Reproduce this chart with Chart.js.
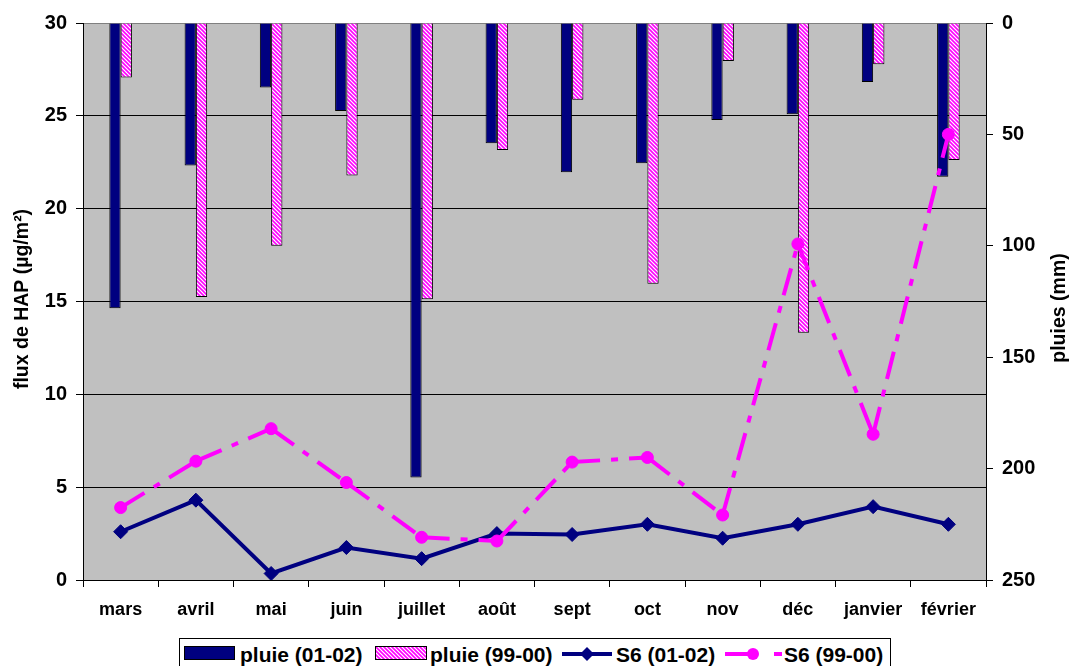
<!DOCTYPE html>
<html>
<head>
<meta charset="utf-8">
<script src="https://cdn.jsdelivr.net/npm/chart.js@4/dist/chart.umd.min.js"></script>
<style>
  html, body { margin: 0; padding: 0; background: #fff; overflow: hidden; }
  #wrap { position: relative; width: 1071px; height: 666px; }
  #chart { position: absolute; left: 0; top: 0; }
  .lg { position: absolute; font: bold 21px "Liberation Sans", Arial, sans-serif; line-height: 20px; color: #000; white-space: nowrap; }
  #legendBox { position: absolute; left: 179px; top: 638px; width: 712px; height: 40px; border: 1px solid #000; box-sizing: border-box; background: #fff; }
  .swatch { position: absolute; top: 646px; height: 14px; box-sizing: border-box; border: 1px solid #000; }
</style>
</head>
<body>
<div id="wrap">
  <canvas id="chart" width="1071" height="666"></canvas>
  <div id="legendBox"></div>
  <div class="swatch" style="left:184px;width:51px;background:#000080;"></div>
  <div class="lg" style="left:240px;top:645px;">pluie (01-02)</div>
  <div class="swatch" id="hatchSwatch" style="left:375px;width:52px;"></div>
  <div class="lg" style="left:430px;top:645px;">pluie (99-00)</div>
  <svg style="position:absolute;left:560px;top:644px" width="54" height="20">
    <line x1="2" y1="10" x2="52" y2="10" stroke="#000080" stroke-width="4"/>
    <polygon points="27,3 34,10 27,17 20,10" fill="#000080"/>
  </svg>
  <div class="lg" style="left:616px;top:645px;">S6 (01-02)</div>
  <svg style="position:absolute;left:722px;top:644px" width="62" height="20">
    <line x1="3" y1="10" x2="31" y2="10" stroke="#ff00ff" stroke-width="4"/>
    <circle cx="31" cy="10" r="6" fill="#ff00ff"/>
    <line x1="52" y1="10" x2="60" y2="10" stroke="#ff00ff" stroke-width="4"/>
  </svg>
  <div class="lg" style="left:784px;top:645px;">S6 (99-00)</div>
</div>
<script>
// Months of the sampling year (March to February)
const months = ['mars', 'avril', 'mai', 'juin', 'juillet', 'août', 'sept', 'oct', 'nov', 'déc', 'janvier', 'février'];

// Monthly rainfall (mm), right axis, hanging from the top
const pluie0102 = [128, 64, 29, 39.5, 204, 54, 67, 63, 43.5, 41, 26.5, 69];
const pluie9900 = [24.5, 123, 100, 68.5, 124, 57, 34.5, 117, 17, 139, 18.5, 61.5];

// PAH deposition flux at site S6 (µg/m²), left axis
const s6_0102 = [2.6, 4.3, 0.35, 1.75, 1.15, 2.5, 2.45, 3.0, 2.25, 3.0, 3.95, 3.0];
const s6_9900 = [3.9, 6.4, 8.15, 5.25, 2.3, 2.1, 6.35, 6.6, 3.5, 18.1, 7.85, 24.0];

// Axis ranges
const fluxTicks = [0, 5, 10, 15, 20, 25, 30];
const pluieTicks = [0, 50, 100, 150, 200, 250];

const FONT = '"Liberation Sans", Arial, sans-serif';

// Pink/white diagonal hatch used for the 1999-2000 rainfall bars
function makeHatch() {
  const c = document.createElement('canvas');
  c.width = 4; c.height = 4;
  const g = c.getContext('2d');
  g.fillStyle = '#ffffff';
  g.fillRect(0, 0, 4, 4);
  g.strokeStyle = '#ff00ff';
  g.lineWidth = 1.6;
  g.beginPath();
  g.moveTo(-1, -1); g.lineTo(5, 5);
  g.moveTo(3, -1); g.lineTo(5, 1);
  g.moveTo(-1, 3); g.lineTo(1, 5);
  g.stroke();
  return { canvas: c, pattern: g.createPattern(c, 'repeat') };
}
const hatch = makeHatch();
document.getElementById('hatchSwatch').style.background =
  'url(' + hatch.canvas.toDataURL() + ')';

// Grey plot background
const plotBackground = {
  id: 'plotBackground',
  beforeDraw(chart) {
    const { ctx, chartArea: a } = chart;
    ctx.save();
    ctx.fillStyle = '#c0c0c0';
    ctx.fillRect(a.left, a.top, a.right - a.left, a.bottom - a.top);
    ctx.restore();
  }
};

// Both axis titles read bottom-to-top
const axisTitles = {
  id: 'axisTitles',
  afterDraw(chart) {
    const { ctx } = chart;
    ctx.save();
    ctx.font = 'bold 19.5px ' + FONT;
    ctx.fillStyle = '#000';
    ctx.textAlign = 'center';
    ctx.textBaseline = 'alphabetic';
    ctx.save();
    ctx.translate(28, 299);
    ctx.rotate(-Math.PI / 2);
    ctx.fillText('flux de HAP (µg/m²)', 0, 0);
    ctx.restore();
    ctx.save();
    ctx.translate(1065, 308);
    ctx.rotate(-Math.PI / 2);
    ctx.fillText('pluies (mm)', 0, 0);
    ctx.restore();
    ctx.restore();
  }
};

new Chart(document.getElementById('chart'), {
  type: 'bar',
  data: {
    labels: months,
    datasets: [
      {
        type: 'bar', label: 'pluie (01-02)', data: pluie0102, yAxisID: 'y2',
        backgroundColor: '#000080', borderColor: '#000', borderWidth: 1,
        categoryPercentage: 0.3, barPercentage: 1.0, order: 2
      },
      {
        type: 'bar', label: 'pluie (99-00)', data: pluie9900, yAxisID: 'y2',
        backgroundColor: hatch.pattern, borderColor: '#000', borderWidth: 1,
        categoryPercentage: 0.3, barPercentage: 1.0, order: 2
      },
      {
        type: 'line', label: 'S6 (01-02)', data: s6_0102, yAxisID: 'y',
        borderColor: '#000080', backgroundColor: '#000080', borderWidth: 4,
        pointStyle: 'rectRot', pointRadius: 7, pointBorderWidth: 1,
        tension: 0, fill: false, order: 1
      },
      {
        type: 'line', label: 'S6 (99-00)', data: s6_9900, yAxisID: 'y',
        borderColor: '#ff00ff', backgroundColor: '#ff00ff', borderWidth: 4,
        borderDash: [28, 11, 7, 11],
        // a distinct (negligible) offset per segment makes each segment stroke
        // on its own, so the dash pattern restarts at every point
        segment: { borderDashOffset: c => c.p0DataIndex * 1e-4 },
        pointStyle: 'circle', pointRadius: 6, pointBorderWidth: 1,
        tension: 0, fill: false, order: 0
      }
    ]
  },
  options: {
    responsive: false,
    animation: false,
    devicePixelRatio: 1,
    layout: { padding: { top: 23, left: 0, right: 0, bottom: 0 } },
    plugins: { legend: { display: false }, tooltip: { enabled: false } },
    scales: {
      x: {
        offset: true,
        grid: { offset: true, drawOnChartArea: false, color: '#000', tickLength: 7 },
        border: { color: '#000', width: 1 },
        ticks: {
          color: '#000', font: { family: FONT, size: 18, weight: 'bold' },
          padding: 12, maxRotation: 0, autoSkip: false
        },
        afterFit(s) { s.height = 86; }
      },
      y: {
        position: 'left',
        min: fluxTicks[0], max: fluxTicks[fluxTicks.length - 1],
        grid: {
          color: c => (c.tick && c.tick.value === 30 ? '#808080' : '#000'),
          tickColor: '#000', tickLength: 7, lineWidth: 1
        },
        border: { color: '#000', width: 1 },
        ticks: {
          stepSize: 5, color: '#000', padding: 9,
          font: { family: FONT, size: 20, weight: 'bold' }
        },
        afterFit(s) { s.width = 83; }
      },
      y2: {
        position: 'right', reverse: true,
        min: pluieTicks[0], max: pluieTicks[pluieTicks.length - 1],
        grid: { drawOnChartArea: false, color: '#000', tickLength: 7 },
        border: { color: '#000', width: 1 },
        ticks: {
          stepSize: 50, color: '#000', padding: 9,
          font: { family: FONT, size: 20, weight: 'bold' }
        },
        afterFit(s) { s.width = 85; }
      }
    }
  },
  plugins: [plotBackground, axisTitles]
});
</script>
</body>
</html>
